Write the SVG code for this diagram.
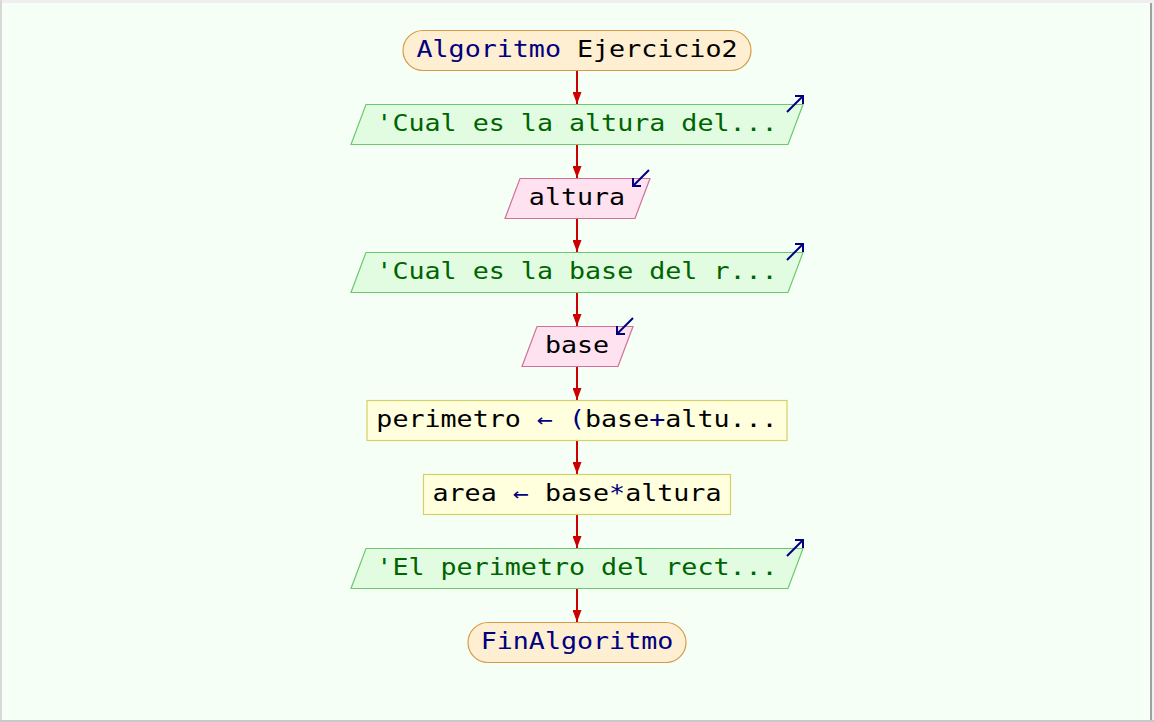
<svg xmlns="http://www.w3.org/2000/svg" width="1154" height="722" viewBox="0 0 1154 722">
<defs>
<style>
.t{font-family:"DejaVu Sans Mono","Liberation Mono",monospace;font-size:23px;text-anchor:middle}
.kw{fill:#000080}.st{fill:#006400}.tx{fill:#000000}
.term{fill:#ffefd2;stroke:#d49a48;stroke-width:1.2}
.out{fill:#e2fce2;stroke:#6cc86c;stroke-width:1.2}
.in{fill:#ffe2f0;stroke:#d0709a;stroke-width:1.2}
.proc{fill:#ffffdd;stroke:#d4d068;stroke-width:1.2}
.edge{stroke:#cc0000;stroke-width:2;fill:none}
.icon{stroke:#000080;stroke-width:2;fill:none}
</style>
<marker id="ah" markerWidth="12" markerHeight="9" refX="12" refY="4.5" orient="auto" markerUnits="userSpaceOnUse">
<path d="M0,0 L12,4.5 L0,9 Z" fill="#cc0000"/>
</marker>
</defs>
<rect x="0" y="0" width="1154" height="722" fill="#f6fff6"/>
<rect x="0" y="0" width="1154" height="3" fill="#efefef"/>
<rect x="0" y="0" width="2" height="722" fill="#d8d8d8"/>
<rect x="1150" y="3" width="2" height="719" fill="#a0a0a0"/>
<rect x="1152" y="0" width="2" height="722" fill="#efefef"/>
<rect x="0" y="720" width="1154" height="2" fill="#c8c8c8"/>

<g id="connectors">
<line class="edge" x1="577" y1="71" x2="577" y2="104" marker-end="url(#ah)"/>
<line class="edge" x1="577" y1="144" x2="577" y2="178" marker-end="url(#ah)"/>
<line class="edge" x1="577" y1="218" x2="577" y2="252" marker-end="url(#ah)"/>
<line class="edge" x1="577" y1="292" x2="577" y2="326" marker-end="url(#ah)"/>
<line class="edge" x1="577" y1="366" x2="577" y2="400" marker-end="url(#ah)"/>
<line class="edge" x1="577" y1="440" x2="577" y2="474" marker-end="url(#ah)"/>
<line class="edge" x1="577" y1="514" x2="577" y2="548" marker-end="url(#ah)"/>
<line class="edge" x1="577" y1="588" x2="577" y2="622" marker-end="url(#ah)"/>
</g>

<g id="start">
<rect class="term" x="403" y="30.5" width="348" height="40" rx="20" ry="20"/>
<text class="t" transform="matrix(1.16,0,0,1,577,57)"><tspan class="kw">Algoritmo</tspan><tspan class="tx"> Ejercicio2</tspan></text>
</g>

<g id="out1">
<polygon class="out" points="366,104.5 803,104.5 788,144.5 351,144.5"/>
<text class="t st" transform="matrix(1.16,0,0,1,577,131)">'Cual es la altura del...</text>
<path class="icon" d="M787,112 L803,96 M795,96 L803,96 L803,104"/>
</g>

<g id="in1">
<polygon class="in" points="520,178.5 650,178.5 635,218.5 505,218.5"/>
<text class="t tx" transform="matrix(1.16,0,0,1,577,205)">altura</text>
<path class="icon" d="M649,170 L633,186 M633,178 L633,186 L641,186"/>
</g>

<g id="out2">
<polygon class="out" points="366,252.5 803,252.5 788,292.5 351,292.5"/>
<text class="t st" transform="matrix(1.16,0,0,1,577,279)">'Cual es la base del r...</text>
<path class="icon" d="M787,260 L803,244 M795,244 L803,244 L803,252"/>
</g>

<g id="in2">
<polygon class="in" points="537,326.5 633,326.5 618,366.5 522,366.5"/>
<text class="t tx" transform="matrix(1.16,0,0,1,577,353)">base</text>
<path class="icon" d="M633,318 L617,334 M617,326 L617,334 L625,334"/>
</g>

<g id="proc1">
<rect class="proc" x="367" y="400.5" width="420" height="40"/>
<text class="t" transform="matrix(1.16,0,0,1,577,427)"><tspan class="tx">perimetro </tspan><tspan class="kw">← (</tspan><tspan class="tx">base</tspan><tspan class="kw">+</tspan><tspan class="tx">altu...</tspan></text>
</g>

<g id="proc2">
<rect class="proc" x="423.5" y="474.5" width="307" height="40"/>
<text class="t" transform="matrix(1.16,0,0,1,577,501)"><tspan class="tx">area </tspan><tspan class="kw">←</tspan><tspan class="tx"> base</tspan><tspan class="kw">*</tspan><tspan class="tx">altura</tspan></text>
</g>

<g id="out3">
<polygon class="out" points="366,548.5 803,548.5 788,588.5 351,588.5"/>
<text class="t st" transform="matrix(1.16,0,0,1,577,575)">'El perimetro del rect...</text>
<path class="icon" d="M787,556 L803,540 M795,540 L803,540 L803,548"/>
</g>

<g id="end">
<rect class="term" x="468" y="622.5" width="218" height="40" rx="20" ry="20"/>
<text class="t kw" transform="matrix(1.16,0,0,1,577,649)">FinAlgoritmo</text>
</g>
</svg>
